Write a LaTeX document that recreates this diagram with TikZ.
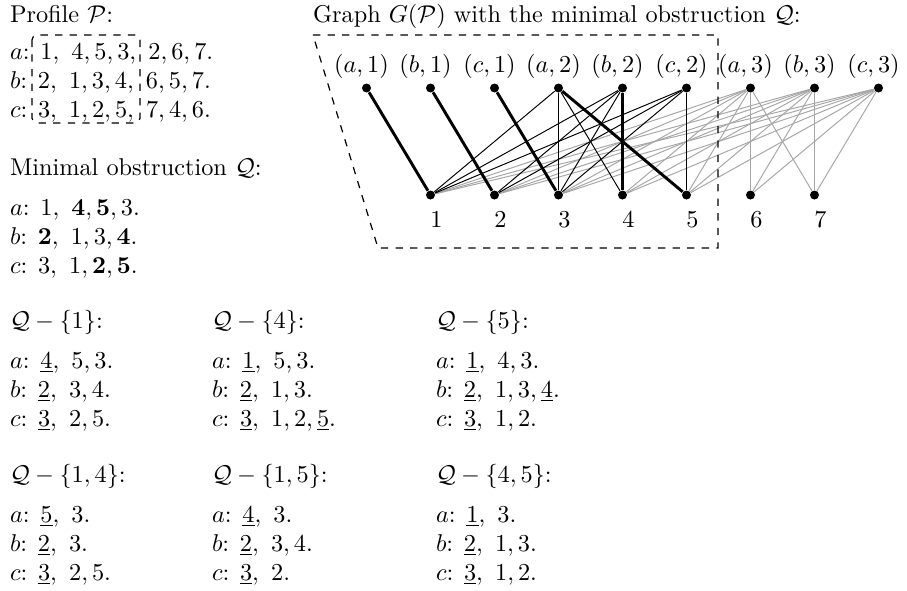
\documentclass[tikz,border=0pt]{standalone}
\usepackage{amsmath}
\begin{document}
\begin{tikzpicture}[x=0.4115pt, y=-0.4115pt,
  txt/.style={anchor=base west, inner sep=0pt, outer sep=0pt},
  lab/.style={anchor=base, inner sep=0pt, outer sep=0pt},
  vtx/.style={circle, fill=black, inner sep=0pt, minimum size=3.7pt},
  gedge/.style={black!35, line width=0.4pt},
  bedge/.style={black, line width=0.4pt},
  tedge/.style={black, line width=1.2pt},
  dbox/.style={draw=black, dashed, line width=0.5pt}]
\useasboundingbox (0,0) rectangle (907,591);

% ---------- Profile ----------
\node[txt] (hP) at (10,22) {Profile $\mathcal{P}$:};
\node[txt] (pa) at (10,59) {$a$: $1,\ 4,5,3,\ 2,6,7.$};
\node[txt] (pb) at (10,88) {$b$: $2,\ 1,3,4,\ 6,5,7.$};
\node[txt] (pc) at (10,117) {$c$: $3,\ 1,2,5,\ 7,4,6.$};
\draw[dbox, rounded corners=2pt] (32,35) rectangle (140,123);

% ---------- Minimal obstruction ----------
\node[txt] (hQ) at (10,175) {Minimal obstruction $\mathcal{Q}$:};
\node[txt] (qa) at (10,215) {$a$: $1,\ \mathbf{4},\mathbf{5},3.$};
\node[txt] (qb) at (10,244) {$b$: $\mathbf{2},\ 1,3,\mathbf{4}.$};
\node[txt] (qc) at (10,273) {$c$: $3,\ 1,\mathbf{2},\mathbf{5}.$};

% ---------- Q - {1} ----------
\node[txt] (h1) at (10,328) {$\mathcal{Q}-\{1\}$:};
\node[txt] (r1a) at (10,368) {$a$: $\underline{4},\ 5,3.$};
\node[txt] (r1b) at (10,397) {$b$: $\underline{2},\ 3,4.$};
\node[txt] (r1c) at (10,426) {$c$: $\underline{3},\ 2,5.$};

% ---------- Q - {4} ----------
\node[txt] (h4) at (212,328) {$\mathcal{Q}-\{4\}$:};
\node[txt] (r4a) at (212,368) {$a$: $\underline{1},\ 5,3.$};
\node[txt] (r4b) at (212,397) {$b$: $\underline{2},\ 1,3.$};
\node[txt] (r4c) at (212,426) {$c$: $\underline{3},\ 1,2,\underline{5}.$};

% ---------- Q - {5} ----------
\node[txt] (h5) at (436,328) {$\mathcal{Q}-\{5\}$:};
\node[txt] (r5a) at (436,368) {$a$: $\underline{1},\ 4,3.$};
\node[txt] (r5b) at (436,397) {$b$: $\underline{2},\ 1,3,\underline{4}.$};
\node[txt] (r5c) at (436,426) {$c$: $\underline{3},\ 1,2.$};

% ---------- Q - {1,4} ----------
\node[txt] (h14) at (10,482) {$\mathcal{Q}-\{1,4\}$:};
\node[txt] (r14a) at (10,522) {$a$: $\underline{5},\ 3.$};
\node[txt] (r14b) at (10,551) {$b$: $\underline{2},\ 3.$};
\node[txt] (r14c) at (10,580) {$c$: $\underline{3},\ 2,5.$};

% ---------- Q - {1,5} ----------
\node[txt] (h15) at (212,482) {$\mathcal{Q}-\{1,5\}$:};
\node[txt] (r15a) at (212,522) {$a$: $\underline{4},\ 3.$};
\node[txt] (r15b) at (212,551) {$b$: $\underline{2},\ 3,4.$};
\node[txt] (r15c) at (212,580) {$c$: $\underline{3},\ 2.$};

% ---------- Q - {4,5} ----------
\node[txt] (h45) at (436,482) {$\mathcal{Q}-\{4,5\}$:};
\node[txt] (r45a) at (436,522) {$a$: $\underline{1},\ 3.$};
\node[txt] (r45b) at (436,551) {$b$: $\underline{2},\ 1,3.$};
\node[txt] (r45c) at (436,580) {$c$: $\underline{3},\ 1,2.$};

% ---------- Graph ----------
\node[txt] (hG) at (313,22) {Graph $G(\mathcal{P})$ with the minimal obstruction $\mathcal{Q}$:};

\foreach \v/\s [count=\i from 0] in {a/1,b/1,c/1,a/2,b/2,c/2,a/3,b/3,c/3} {
  \node[vtx] (\v\s) at ({366.5+64*\i},88) {};
  \node[lab] (l\v\s) at ({361.5+64*\i},72.5) {$(\v,\s)$};
}
\foreach \j in {1,...,7} {
  \node[vtx] (v\j) at ({430.5+64*(\j-1)},195) {};
  \node[lab] (n\j) at ({436.5+64*(\j-1)},227) {$\j$};
}

% gray edges
\foreach \t in {a3,b3,c3} {
  \foreach \j in {1,...,7} {
    \draw[gedge] (\t) -- (v\j);
  }
}
% thin black edges
\foreach \t/\b in {a2/v1,a2/v3,a2/v4,b2/v1,b2/v2,b2/v3,c2/v1,c2/v2,c2/v3,c2/v5} {
  \draw[bedge] (\t) -- (\b);
}
% thick edges
\foreach \t/\b in {a1/v1,b1/v2,c1/v3,a2/v5,b2/v4} {
  \draw[tedge] (\t) -- (\b);
}

% dashed region
\coordinate (g1) at (313,35);
\coordinate (g2) at (718,35);
\coordinate (g3) at (718,248);
\coordinate (g4) at (378,248);
\draw[dbox] (g1) -- (g2) -- (g3) -- (g4) -- cycle;
\end{tikzpicture}
\end{document}
